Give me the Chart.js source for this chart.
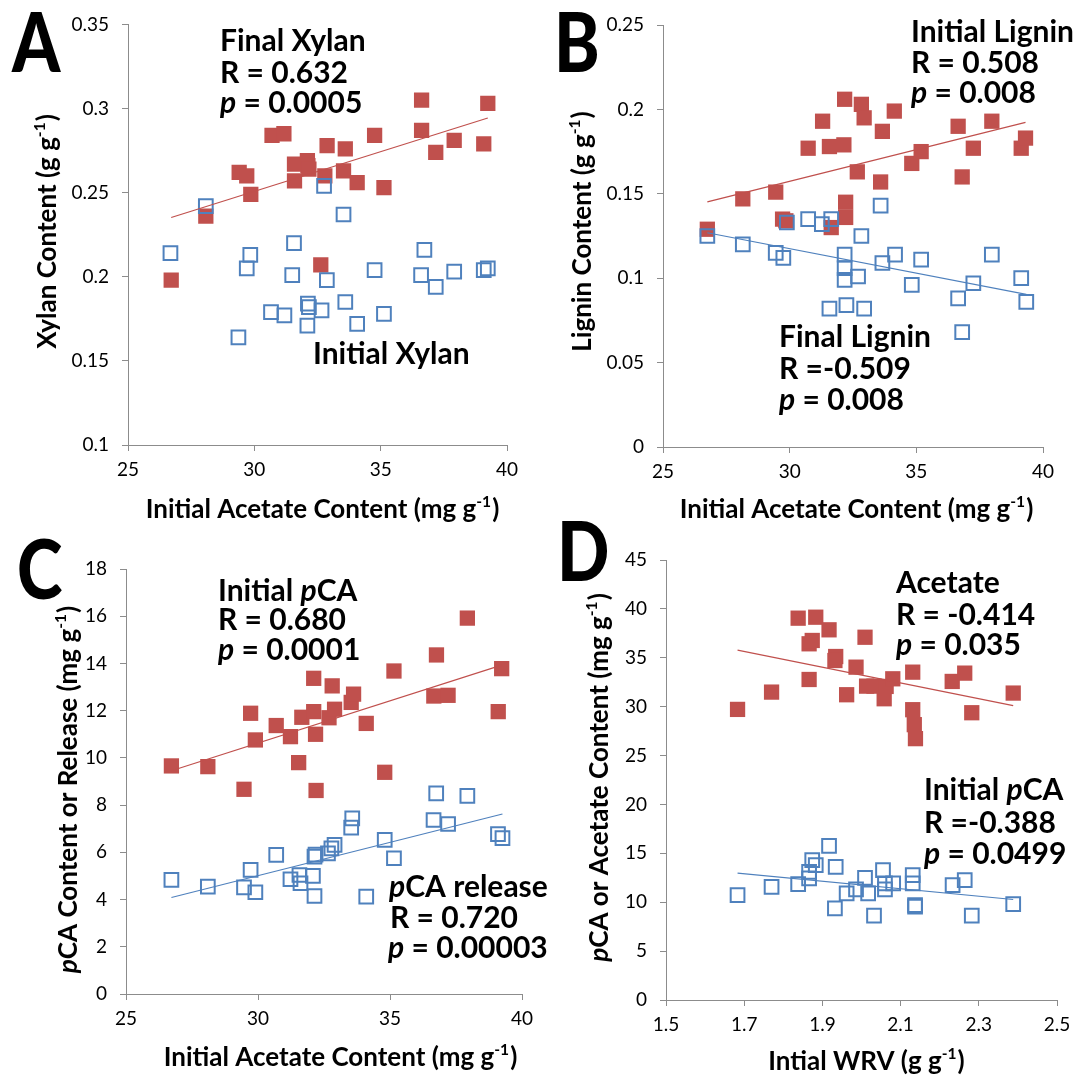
<!DOCTYPE html>
<html>
<head>
<meta charset="utf-8">
<script src="https://cdn.jsdelivr.net/npm/chart.js@4.4.1/dist/chart.umd.min.js"></script>
<style>
  html, body { margin: 0; padding: 0; background: #ffffff; }
  #wrap { position: relative; width: 1079px; height: 1077px; overflow: hidden; background: #ffffff; }
  #wrap canvas { position: absolute; left: 0; top: 0; }
</style>
</head>
<body>
<div id="wrap">
  <canvas id="chartD" width="1079" height="1077"></canvas>
  <canvas id="chartB" width="1079" height="1077"></canvas>
  <canvas id="chartC" width="1079" height="1077"></canvas>
  <canvas id="chartA" width="1079" height="1077"></canvas>
</div>
<script>
// ---- Panel A: xylan vs initial acetate (mg/g) ----
const xylanFinalX = [26.71, 28.08, 29.40, 29.70, 29.86, 30.70, 31.17, 31.59, 31.59, 32.10, 32.12, 32.16, 32.63, 32.79, 32.88, 33.53, 33.60, 34.07, 34.76, 35.13, 36.62, 36.62, 37.18, 37.91, 39.08, 39.24];
const xylanFinalY = [0.198, 0.236, 0.262, 0.260, 0.249, 0.284, 0.285, 0.267, 0.257, 0.269, 0.266, 0.264, 0.207, 0.260, 0.278, 0.263, 0.276, 0.256, 0.284, 0.253, 0.305, 0.287, 0.274, 0.281, 0.279, 0.303];
const xylanInitX  = [26.68, 28.08, 29.37, 29.70, 29.84, 30.66, 31.19, 31.50, 31.57, 32.10, 32.12, 32.16, 32.66, 32.76, 32.87, 33.53, 33.60, 34.07, 34.76, 35.13, 36.60, 36.73, 37.18, 37.91, 39.08, 39.24];
const xylanInitY  = [0.214, 0.242, 0.164, 0.205, 0.213, 0.179, 0.177, 0.201, 0.220, 0.171, 0.184, 0.182, 0.180, 0.254, 0.198, 0.237, 0.185, 0.172, 0.204, 0.178, 0.201, 0.216, 0.194, 0.203, 0.204, 0.205];

// ---- Panel B: lignin vs initial acetate ----
const ligninInitX  = [26.75, 28.15, 29.45, 29.72, 29.85, 30.73, 31.30, 31.57, 31.64, 32.14, 32.17, 32.21, 32.21, 32.67, 32.83, 32.94, 33.59, 33.66, 34.13, 34.82, 35.19, 36.65, 36.81, 37.25, 37.98, 39.14, 39.31];
const ligninInitY  = [0.129, 0.147, 0.151, 0.135, 0.134, 0.177, 0.193, 0.178, 0.130, 0.179, 0.206, 0.145, 0.136, 0.163, 0.203, 0.195, 0.157, 0.187, 0.199, 0.168, 0.175, 0.190, 0.160, 0.177, 0.193, 0.177, 0.183];
const ligninFinalX = [26.75, 28.15, 29.45, 29.75, 29.89, 30.73, 31.27, 31.57, 31.64, 32.17, 32.17, 32.17, 32.24, 32.70, 32.83, 32.94, 33.59, 33.66, 34.16, 34.82, 35.19, 36.65, 36.81, 37.25, 37.98, 39.14, 39.34];
const ligninFinalY = [0.125, 0.120, 0.115, 0.112, 0.133, 0.135, 0.132, 0.082, 0.135, 0.114, 0.106, 0.099, 0.084, 0.101, 0.125, 0.082, 0.143, 0.109, 0.114, 0.096, 0.111, 0.088, 0.068, 0.097, 0.114, 0.100, 0.086];

// ---- Panel C: pCA content / release vs initial acetate ----
const pcaInitX = [26.72, 28.10, 29.47, 29.72, 29.90, 30.69, 31.23, 31.54, 31.66, 32.11, 32.11, 32.18, 32.20, 32.69, 32.81, 32.90, 33.53, 33.62, 34.10, 34.80, 35.15, 36.66, 36.76, 37.20, 37.93, 39.10, 39.23];
const pcaInitY = [9.66, 9.63, 8.67, 11.89, 10.76, 11.37, 10.90, 9.80, 11.72, 13.37, 11.96, 11.00, 8.62, 11.70, 13.05, 12.06, 12.35, 12.70, 11.46, 9.39, 13.68, 12.62, 14.36, 12.65, 15.92, 11.96, 13.78];
const pcaRelX  = [26.72, 28.10, 29.47, 29.72, 29.90, 30.69, 31.23, 31.57, 31.61, 32.08, 32.14, 32.14, 32.18, 32.65, 32.78, 32.90, 33.53, 33.57, 34.10, 34.80, 35.15, 36.65, 36.75, 37.20, 37.93, 39.09, 39.26];
const pcaRelY  = [4.83, 4.55, 4.52, 5.26, 4.31, 5.89, 4.86, 5.04, 4.69, 5.00, 4.15, 5.82, 5.90, 5.96, 6.17, 6.32, 7.05, 7.44, 4.12, 6.53, 5.75, 7.37, 8.50, 7.20, 8.39, 6.77, 6.60];

// ---- Panel D: acetate and pCA vs initial WRV (g/g) ----
const wrvAcetX = [1.683, 1.770, 1.838, 1.883, 1.917, 1.866, 1.874, 1.866, 2.009, 1.934, 1.932, 1.986, 1.962, 2.013, 2.032, 2.058, 2.063, 2.080, 2.131, 2.131, 2.135, 2.138, 2.232, 2.264, 2.282, 2.388];
const wrvAcetY = [29.72, 31.49, 39.05, 39.15, 37.86, 36.43, 36.77, 32.78, 37.10, 35.13, 34.72, 34.04, 31.22, 32.10, 32.10, 30.81, 32.07, 32.85, 33.53, 29.69, 28.16, 26.73, 32.58, 33.43, 29.38, 31.39];
const wrvPcaX  = [1.683, 1.770, 1.838, 1.866, 1.866, 1.874, 1.883, 1.917, 1.934, 1.932, 1.962, 1.986, 2.009, 2.017, 2.032, 2.055, 2.060, 2.060, 2.081, 2.131, 2.131, 2.137, 2.137, 2.233, 2.264, 2.282, 2.388];
const wrvPcaY  = [10.73, 11.58, 11.85, 12.43, 13.11, 14.30, 13.79, 15.77, 13.62, 9.37, 10.90, 11.31, 12.50, 10.90, 8.62, 13.28, 11.92, 11.31, 11.92, 12.77, 11.92, 9.71, 9.54, 11.75, 12.26, 8.62, 9.81];

// ---- tick values ----
const acetateTicks = [25, 30, 35, 40];
const xylanTicks   = [0.1, 0.15, 0.2, 0.25, 0.3, 0.35];
const ligninTicks  = [0, 0.05, 0.1, 0.15, 0.2, 0.25];
const pcaTicks     = [0, 2, 4, 6, 8, 10, 12, 14, 16, 18];
const wrvTicks     = [1.5, 1.7, 1.9, 2.1, 2.3, 2.5];
const contentTicks = [0, 5, 10, 15, 20, 25, 30, 35, 40, 45];

const RED = '#C0504D';
const BLUE = '#4F81BD';
const AXIS = '#8C8C8C';
const FONT = 'Lato, "Open Sans", sans-serif';

function pts(xs, ys) { return xs.map((x, i) => ({ x: x, y: ys[i] })); }

// least-squares trend line spanning the series' x range
function trend(xs, ys) {
  const n = xs.length;
  const mx = xs.reduce((a, b) => a + b, 0) / n;
  const my = ys.reduce((a, b) => a + b, 0) / n;
  let sxy = 0, sxx = 0;
  for (let i = 0; i < n; i++) { sxy += (xs[i] - mx) * (ys[i] - my); sxx += (xs[i] - mx) ** 2; }
  const b = sxy / sxx, a = my - b * mx;
  const x0 = Math.min(...xs), x1 = Math.max(...xs);
  return [{ x: x0, y: a + b * x0 }, { x: x1, y: a + b * x1 }];
}

function filledSet(xs, ys) {
  return { data: pts(xs, ys), pointStyle: 'rect', pointRadius: 10.8, pointHoverRadius: 10.8,
           backgroundColor: RED, borderColor: RED, borderWidth: 0, order: 2 };
}
function openSet(xs, ys) {
  return { data: pts(xs, ys), pointStyle: 'rect', pointRadius: 9.7, pointHoverRadius: 9.7,
           backgroundColor: 'rgba(255,255,255,0)', borderColor: BLUE, borderWidth: 2, order: 1 };
}
function lineSet(xs, ys, color) {
  return { data: trend(xs, ys), showLine: true, pointRadius: 0, borderColor: color,
           borderWidth: 1.2, order: 0 };
}

function fmt(v) { return String(parseFloat(v.toFixed(3))); }

function makeAxis(pos, min, max, ticks, box, pad) {
  return {
    type: 'linear', position: pos, min: min, max: max,
    afterBuildTicks: s => { s.ticks = ticks.map(v => ({ value: v })); },
    afterFit: s => { if (pos === 'left') s.width = box; else s.height = box; },
    grid: { drawOnChartArea: false, drawTicks: true, tickLength: 6, color: AXIS, lineWidth: 1 },
    border: { display: true, color: AXIS, width: 1 },
    ticks: { font: { family: FONT, size: 19 }, color: '#000', padding: pad,
             autoSkip: false, maxRotation: 0, callback: v => fmt(v) }
  };
}

// draws a run of text pieces: flags 'i' = italic, 's' = superscript
function drawRich(ctx, parts, x, y, size, align, rot) {
  const fontOf = f => (f.includes('i') ? 'italic ' : '') + 'bold ' +
                      (f.includes('s') ? size * 0.6 : size) + 'px ' + FONT;
  ctx.save();
  ctx.translate(x, y);
  if (rot) ctx.rotate(rot);
  let w = 0;
  parts.forEach(p => { ctx.font = fontOf(p[1] || ''); w += ctx.measureText(p[0]).width; });
  let cx = align === 'center' ? -w / 2 : 0;
  ctx.textAlign = 'left';
  ctx.textBaseline = 'alphabetic';
  ctx.fillStyle = '#000';
  parts.forEach(p => {
    const f = p[1] || '';
    ctx.font = fontOf(f);
    ctx.fillText(p[0], cx, f.includes('s') ? -size * 0.42 : 0);
    cx += ctx.measureText(p[0]).width + (f.includes('s') ? 1 : 0);
  });
  ctx.restore();
}

const panelText = {
  id: 'panelText',
  afterDraw(chart, args, o) {
    const ctx = chart.ctx;
    ctx.save();
    ctx.fillStyle = '#000';
    ctx.textAlign = 'left';
    ctx.textBaseline = 'alphabetic';
    ctx.font = '900 82px ' + FONT;
    ctx.translate(o.letter[1], o.letter[2]);
    ctx.scale(0.84, 1);
    ctx.fillText(o.letter[0], 0, 0);
    ctx.restore();
    o.notes.forEach(n => drawRich(ctx, n[0], n[1], n[2], 30, 'left', 0));
    drawRich(ctx, o.xTitle[0], o.xTitle[1], o.xTitle[2], 26, 'center', 0);
    drawRich(ctx, o.yTitle[0], o.yTitle[1], o.yTitle[2], 26, 'center', -Math.PI / 2);
  }
};

function panel(id, area, sets, xs, ys, text) {
  const YW = 60, XH = 40;
  new Chart(document.getElementById(id), {
    type: 'scatter',
    data: { datasets: sets },
    options: {
      responsive: false, animation: false, devicePixelRatio: 1, events: [],
      layout: { padding: { left: area.l - YW, top: area.t, right: 1079 - area.r, bottom: 1077 - area.b - XH } },
      scales: {
        x: makeAxis('bottom', xs[0], xs[1], xs[2], XH, 7),
        y: makeAxis('left', ys[0], ys[1], ys[2], YW, 13)
      },
      plugins: { legend: { display: false }, tooltip: { enabled: false }, panelText: text }
    },
    plugins: [panelText]
  });
}

panel('chartA', { l: 128, r: 507, t: 24, b: 445 },
  [lineSet(xylanFinalX, xylanFinalY, RED), openSet(xylanInitX, xylanInitY), filledSet(xylanFinalX, xylanFinalY)],
  [25, 40, acetateTicks], [0.1, 0.35, xylanTicks],
  { letter: ['A', 12, 72],
    notes: [
      [[['Final Xylan']], 220, 51],
      [[['R = 0.632']], 220, 83],
      [[['p', 'i'], [' = 0.0005']], 220, 113],
      [[['Initial Xylan']], 313, 364]
    ],
    xTitle: [[['Initial Acetate Content (mg g'], ['-1', 's'], [')']], 322, 518],
    yTitle: [[['Xylan Content (g g'], ['-1', 's'], [')']], 56, 232] });

panel('chartB', { l: 663, r: 1043, t: 25, b: 447 },
  [lineSet(ligninInitX, ligninInitY, RED), lineSet(ligninFinalX, ligninFinalY, BLUE),
   openSet(ligninFinalX, ligninFinalY), filledSet(ligninInitX, ligninInitY)],
  [25, 40, acetateTicks], [0, 0.25, ligninTicks],
  { letter: ['B', 554, 72],
    notes: [
      [[['Initial Lignin']], 911, 42],
      [[['R = 0.508']], 911, 73],
      [[['p', 'i'], [' = 0.008']], 911, 103],
      [[['Final Lignin']], 779, 347],
      [[['R =-0.509']], 779, 379],
      [[['p', 'i'], [' = 0.008']], 779, 410]
    ],
    xTitle: [[['Initial Acetate Content (mg g'], ['-1', 's'], [')']], 856, 518],
    yTitle: [[['Lignin Content (g g'], ['-1', 's'], [')']], 591, 232] });

panel('chartC', { l: 126, r: 522, t: 569, b: 994 },
  [lineSet(pcaInitX, pcaInitY, RED), lineSet(pcaRelX, pcaRelY, BLUE),
   openSet(pcaRelX, pcaRelY), filledSet(pcaInitX, pcaInitY)],
  [25, 40, acetateTicks], [0, 18, pcaTicks],
  { letter: ['C', 17, 599],
    notes: [
      [[['Initial '], ['p', 'i'], ['CA']], 218, 601],
      [[['R = 0.680']], 218, 630],
      [[['p', 'i'], [' = 0.0001']], 218, 660],
      [[['p', 'i'], ['CA release']], 389, 897],
      [[['R = 0.720']], 390, 928],
      [[['p', 'i'], [' = 0.00003']], 388, 958]
    ],
    xTitle: [[['Initial Acetate Content (mg g'], ['-1', 's'], [')']], 340, 1066],
    yTitle: [[['p', 'i'], ['CA Content or Release (mg g'], ['-1', 's'], [')']], 77, 790] });

panel('chartD', { l: 666, r: 1057, t: 560, b: 1000 },
  [lineSet(wrvAcetX, wrvAcetY, RED), lineSet(wrvPcaX, wrvPcaY, BLUE),
   openSet(wrvPcaX, wrvPcaY), filledSet(wrvAcetX, wrvAcetY)],
  [1.5, 2.5, wrvTicks], [0, 45, contentTicks],
  { letter: ['D', 557, 581],
    notes: [
      [[['Acetate']], 896, 593],
      [[['R = -0.414']], 896, 625],
      [[['p', 'i'], [' = 0.035']], 896, 655],
      [[['Initial '], ['p', 'i'], ['CA']], 924, 800],
      [[['R =-0.388']], 924, 833],
      [[['p', 'i'], [' = 0.0499']], 924, 864]
    ],
    xTitle: [[['Intial WRV (g g'], ['-1', 's'], [')']], 866, 1070],
    yTitle: [[['p', 'i'], ['CA or Acetate Content (mg g'], ['-1', 's'], [')']], 608, 778] });
</script>
</body>
</html>
